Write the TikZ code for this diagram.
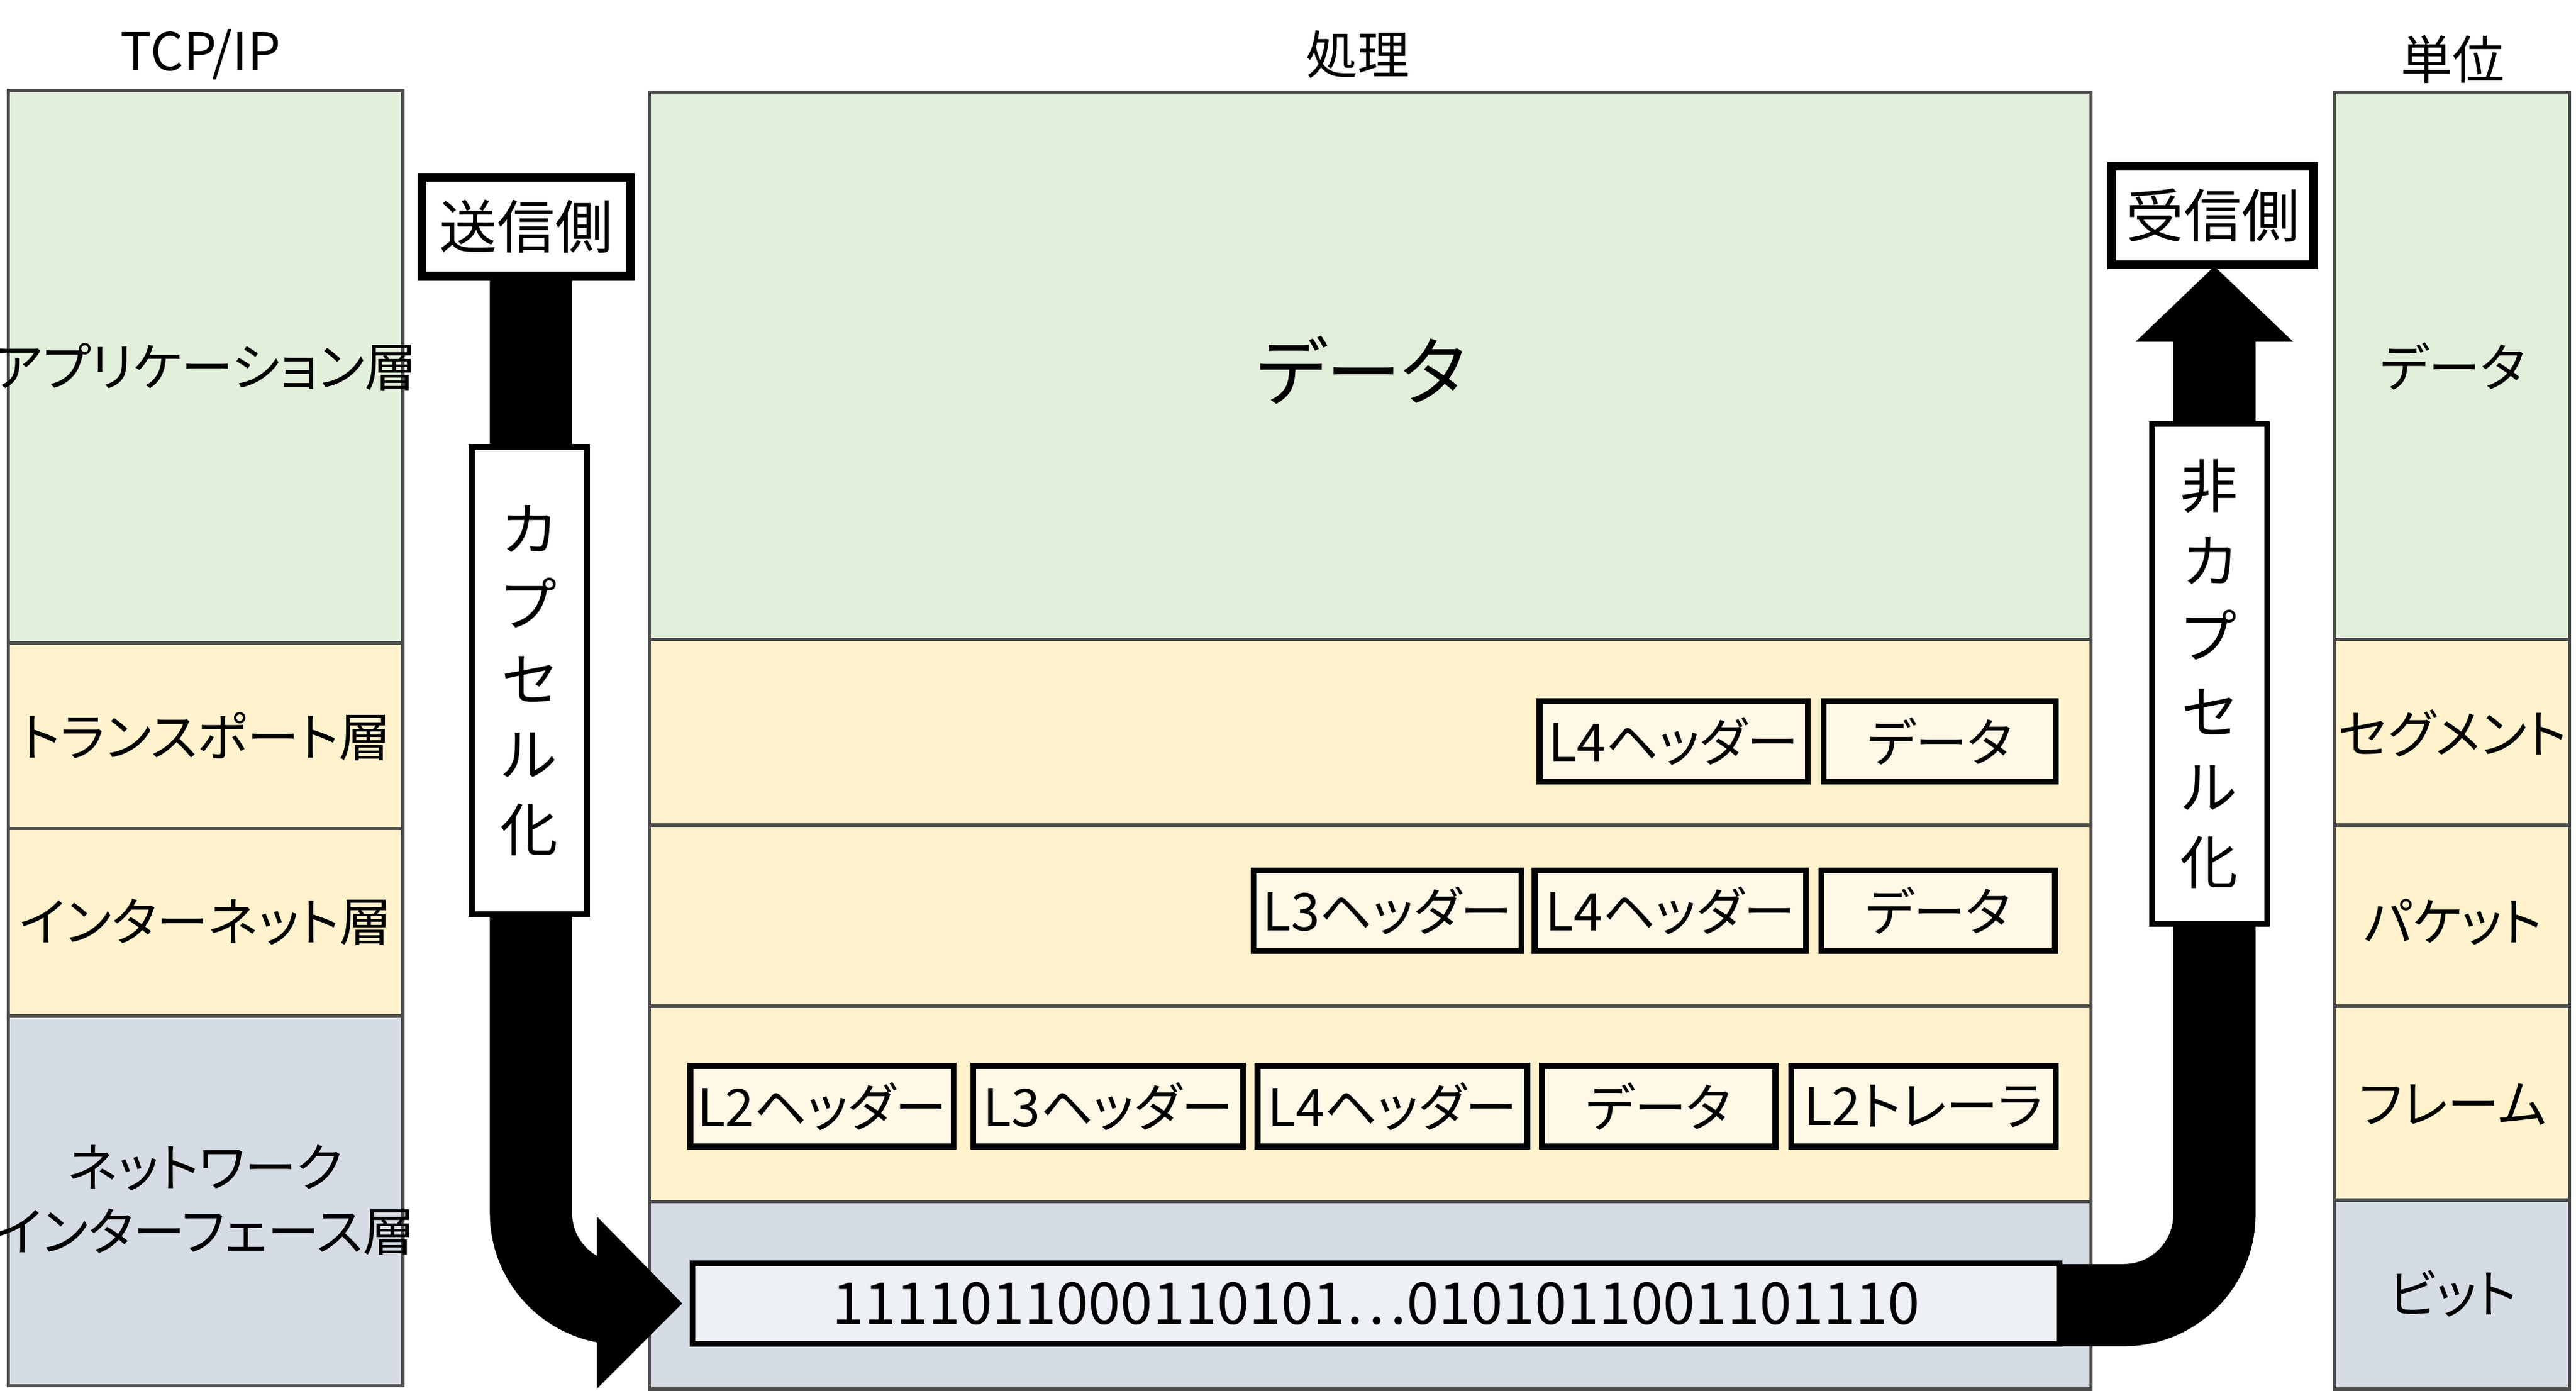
\documentclass[tikz,border=0pt]{standalone}
\usepackage{fontspec}
\setmainfont{Noto Sans CJK JP}[RawFeature=+palt]
\definecolor{appg}{HTML}{E2EFDA}
\definecolor{trny}{HTML}{FFF2CC}
\definecolor{netb}{HTML}{D6DCE4}
\definecolor{boxy}{HTML}{FFF8E6}
\definecolor{bitb}{HTML}{EDF0F4}
\tikzset{
  layer/.style={draw=black!70, line width=0.6pt},
  hdr/.style={draw=black, line width=1pt, fill=boxy, inner sep=0pt, minimum height=0.49cm, font=\fontsize{9}{11}\selectfont},
  lbl/.style={font=\fontsize{9}{11}\selectfont},
  sidebox/.style={draw=black, line width=1.5pt, fill=white, font=\fontsize{10}{12}\selectfont, inner sep=2pt},
  vbox/.style={draw=black, line width=1pt, fill=white, align=center, font=\fontsize{10}{13}\selectfont, inner sep=0pt, minimum width=0.7cm},
  bigarrow/.style={line width=0.5cm, rounded corners=0.55cm}
}
\begin{document}
\begin{tikzpicture}[x=0.01cm, y=-0.01cm]
\useasboundingbox (0,0) rectangle (1567,846);

% titles
\node[lbl] (t1) at (122,33) {TCP/IP};
\node[lbl] (t2) at (826,33) {処理};
\node[lbl] (t3) at (1492,36) {単位};

% TCP/IP column
\draw[layer, fill=appg] (5,55) rectangle (245,391);
\draw[layer, fill=trny] (5,391) rectangle (245,504);
\draw[layer, fill=trny] (5,504) rectangle (245,618);
\draw[layer, fill=netb] (5,618) rectangle (245,843);
\node[lbl] (l1) at (125,223) {アプリケーション層};
\node[lbl] (l2) at (125,448) {トランスポート層};
\node[lbl] (l3) at (125,561) {インターネット層};
\node[lbl, align=center] (l4) at (125,730) {ネットワーク\\インターフェース層};

% processing column
\draw[layer, fill=appg] (395,56) rectangle (1272,389);
\draw[layer, fill=trny] (395,389) rectangle (1272,502);
\draw[layer, fill=trny] (395,502) rectangle (1272,612);
\draw[layer, fill=trny] (395,612) rectangle (1272,731);
\draw[layer, fill=netb] (395,731) rectangle (1272,845);
\node[font=\fontsize{13}{15}\selectfont] (data) at (828,225) {データ};

\node[hdr, minimum width=1.63cm] (h4a) at (1018,451) {L4ヘッダー};
\node[hdr, minimum width=1.41cm] (d4a) at (1180,451) {データ};

\node[hdr, minimum width=1.63cm] (h3b) at (844,554) {L3ヘッダー};
\node[hdr, minimum width=1.65cm] (h4b) at (1016,554) {L4ヘッダー};
\node[hdr, minimum width=1.42cm] (d4b) at (1179,554) {データ};

\node[hdr, minimum width=1.60cm] (h2c) at (500,673) {L2ヘッダー};
\node[hdr, minimum width=1.64cm] (h3c) at (674,673) {L3ヘッダー};
\node[hdr, minimum width=1.64cm] (h4c) at (847,673) {L4ヘッダー};
\node[hdr, minimum width=1.42cm] (d4c) at (1009,673) {データ};
\node[hdr, minimum width=1.61cm] (t2c) at (1170,673) {L2トレーラ};

\node[hdr, fill=bitb, minimum width=8.31cm, font=\fontsize{10}{12}\selectfont] (bits) at (837,793) {1111011000110101⋯0101011001101110};

% unit column
\draw[layer, fill=appg] (1420,56) rectangle (1563,389);
\draw[layer, fill=trny] (1420,389) rectangle (1563,502);
\draw[layer, fill=trny] (1420,502) rectangle (1563,612);
\draw[layer, fill=trny] (1420,612) rectangle (1563,730);
\draw[layer, fill=netb] (1420,730) rectangle (1563,845);
\node[lbl] (u1) at (1492,223) {データ};
\node[lbl] (u2) at (1492,446) {セグメント};
\node[lbl] (u3) at (1492,561) {パケット};
\node[lbl] (u4) at (1492,672) {フレーム};
\node[lbl] (u5) at (1492,787) {ビット};

% sender side
\node[sidebox, minimum width=1.27cm, minimum height=0.6cm] (send) at (320,138) {送信側};
\coordinate (sendhead) at (366,793);
\draw[bigarrow] (send.south -| 323,0) |- (sendhead);
\fill (363,740) -- (415,793) -- (363,845) -- cycle;
\node[vbox, minimum height=2.84cm] (encap) at (322,414) {カ\\プ\\セ\\ル\\化};

% receiver side
\node[sidebox, minimum width=1.23cm, minimum height=0.6cm] (recv) at (1346,131) {受信側};
\coordinate (recvhead) at (1347,206);
\draw[bigarrow] (bits.east |- 0,794) -| (recvhead);
\fill (1299,208) -- (1347,162) -- (1395,208) -- cycle;
\node[vbox, minimum height=3.04cm] (decap) at (1344,410) {非\\カ\\プ\\セ\\ル\\化};
\end{tikzpicture}
\end{document}
